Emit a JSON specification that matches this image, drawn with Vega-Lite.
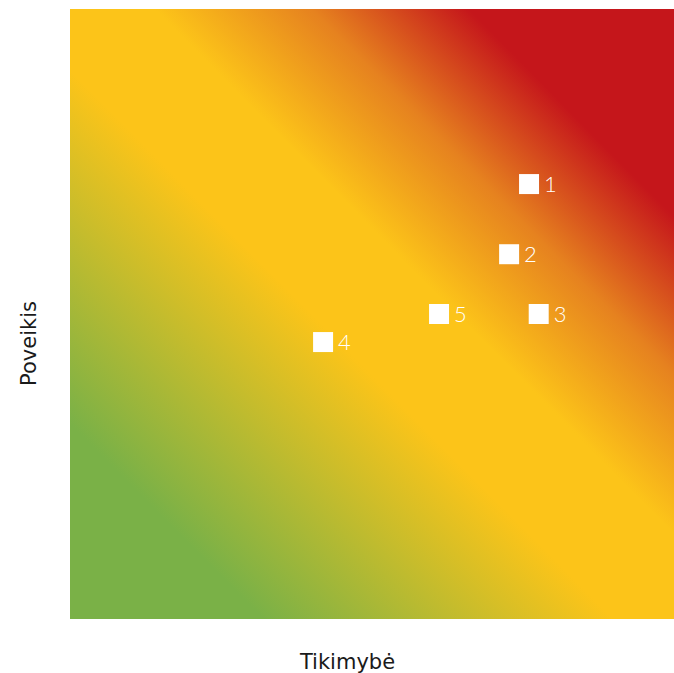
{
  "$schema": "https://vega.github.io/schema/vega-lite/v6.json",
  "width": 604,
  "height": 610,
  "autosize": {"type": "none"},
  "padding": {"left": 70, "top": 9, "right": 0, "bottom": 54},
  "config": {"view": {"stroke": null}, "font": "DejaVu Sans"},
  "datasets": {
    "bg": [{"x0": 0, "x1": 100, "y0": 0, "y1": 100}],
    "risks": [
      {"id": "1", "likelihood": 76.0, "impact": 71.3},
      {"id": "2", "likelihood": 72.7, "impact": 59.8},
      {"id": "3", "likelihood": 77.6, "impact": 50.0},
      {"id": "4", "likelihood": 41.9, "impact": 45.4},
      {"id": "5", "likelihood": 61.1, "impact": 50.0}
    ]
  },
  "layer": [
    {
      "data": {"name": "bg"},
      "mark": {
        "type": "rect",
        "color": {
          "gradient": "linear",
          "x1": 0, "y1": 1, "x2": 1, "y2": 0,
          "stops": [
            {"offset": 0, "color": "#7ab147"},
            {"offset": 0.16, "color": "#7ab147"},
            {"offset": 0.45, "color": "#fcc419"},
            {"offset": 0.57, "color": "#fcc419"},
            {"offset": 0.7, "color": "#e6821f"},
            {"offset": 0.83, "color": "#c5161b"},
            {"offset": 1, "color": "#c5161b"}
          ]
        }
      },
      "encoding": {
        "x": {"field": "x0", "type": "quantitative", "scale": {"domain": [0, 100], "nice": false, "zero": false},
              "axis": {"title": "Tikimybė", "domain": false, "ticks": false, "labels": false, "grid": false,
                       "titleFontSize": 21, "titleFontWeight": "normal", "titleColor": "#1a1a1a",
                       "titleX": 277, "titleY": 49, "titleBaseline": "alphabetic", "titleAlign": "center"}},
        "x2": {"field": "x1"},
        "y": {"field": "y0", "type": "quantitative", "scale": {"domain": [0, 100], "nice": false, "zero": false},
              "axis": {"title": "Poveikis", "domain": false, "ticks": false, "labels": false, "grid": false,
                       "titleFontSize": 21, "titleFontWeight": "normal", "titleColor": "#1a1a1a",
                       "titleX": -35, "titleY": 334, "titleAngle": -90, "titleBaseline": "alphabetic", "titleAlign": "center"}},
        "y2": {"field": "y1"}
      }
    },
    {
      "data": {"name": "risks"},
      "mark": {"type": "point", "shape": "square", "filled": true, "size": 400, "color": "white", "opacity": 1},
      "encoding": {
        "x": {"field": "likelihood", "type": "quantitative"},
        "y": {"field": "impact", "type": "quantitative"}
      }
    },
    {
      "data": {"name": "risks"},
      "mark": {"type": "text", "align": "left", "baseline": "middle", "dx": 15, "dy": 1, "fontSize": 22, "fontWeight": 300, "font": "Lato", "color": "white"},
      "encoding": {
        "x": {"field": "likelihood", "type": "quantitative"},
        "y": {"field": "impact", "type": "quantitative"},
        "text": {"field": "id"}
      }
    }
  ]
}
